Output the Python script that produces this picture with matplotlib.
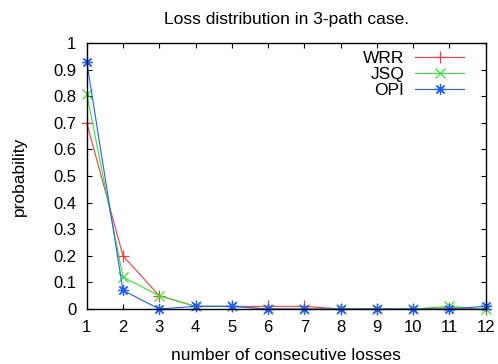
import matplotlib
matplotlib.use('Agg')
import matplotlib.pyplot as plt

plt.rcParams['font.family'] = ['Liberation Sans', 'DejaVu Sans']

losses = [1, 2, 3, 4, 5, 6, 7, 8, 9, 10, 11, 12]
wrr = [0.70, 0.20, 0.05, 0.01, 0.01, 0.01, 0.01, 0.0, 0.0, 0.0, 0.005, 0.0]
jsq = [0.81, 0.12, 0.05, 0.01, 0.01, 0.0, 0.0, 0.0, 0.0, 0.0, 0.01, 0.0]
opi = [0.93, 0.07, 0.0, 0.01, 0.01, 0.0, 0.0, 0.0, 0.0, 0.0, 0.0, 0.01]
yticks = [0, 0.1, 0.2, 0.3, 0.4, 0.5, 0.6, 0.7, 0.8, 0.9, 1]

fig = plt.figure(figsize=(4.98, 3.64), dpi=100)
# axes box: x 86.7..485.7 px, y 43..309 px
ax = fig.add_axes([86.7 / 498, (364 - 309) / 364, 399 / 498, 266 / 364])

ax.plot(losses, wrr, color='#ff3a3a', marker='+', markersize=8, markeredgewidth=0.9,
        linewidth=0.8, label='WRR', clip_on=False)
ax.plot(losses, jsq, color='#33e633', marker='x', markersize=6.5, markeredgewidth=0.9,
        linewidth=0.8, label='JSQ', clip_on=False)
ax.plot(losses, opi, color='#2060ff', marker=(8, 2, 0), markersize=8, markeredgewidth=0.9,
        linewidth=0.8, label='OPI', clip_on=False)

ax.set_xlim(1, 12)
ax.set_ylim(0, 1)
ax.set_xticks(losses)
ax.set_yticks(yticks)
ax.set_yticklabels([('%g' % v) for v in yticks])
ax.tick_params(direction='in', top=True, right=True, length=3.6, width=0.8, labelsize=12)
ax.tick_params(axis='x', pad=8)
ax.tick_params(axis='y', pad=7.5)
for s in ax.spines.values():
    s.set_linewidth(1.0)

ax.set_title('Loss distribution in 3-path case.', fontsize=12.5, pad=14)
ax.set_xlabel('number of consecutive losses', fontsize=12.5, labelpad=9)
ax.set_ylabel('probability', fontsize=12.5, labelpad=19)

leg = ax.legend(loc='upper right', frameon=False, markerfirst=False, fontsize=12.5,
                handlelength=2.8, handletextpad=0.65, labelspacing=0.05,
                borderpad=0, borderaxespad=0, bbox_to_anchor=(0.9457, 0.97))

fig.savefig('out.png', dpi=100)
